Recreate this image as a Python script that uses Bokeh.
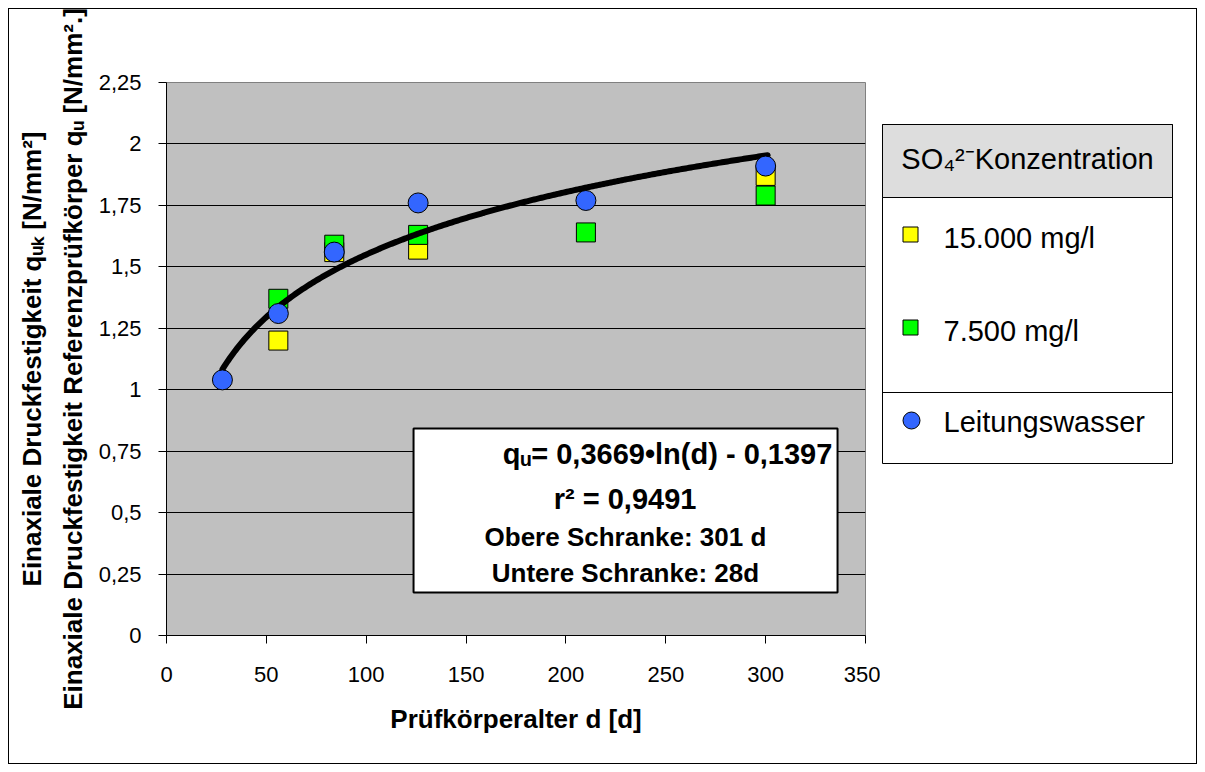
import numpy as np
from bokeh.plotting import figure
from bokeh.models import Range1d, FixedTicker, Label, BoxAnnotation
from bokeh.layouts import row
from bokeh.embed import file_html
from bokeh.resources import INLINE
from bokeh.core.properties import value

# ---------------- data ----------------
days_15000 = [56, 84, 126, 300]
q_15000 = [1.20, 1.56, 1.57, 1.87]

days_7500 = [56, 84, 126, 210, 300]
q_7500 = [1.37, 1.59, 1.63, 1.64, 1.79]

days_tap = [28, 56, 84, 126, 210, 300]
q_tap = [1.04, 1.31, 1.56, 1.76, 1.77, 1.91]

series_names = ["15.000 mg/l", "7.500 mg/l", "Leitungswasser"]
series_colors = ["#FFFF00", "#00FF00", "#3366FF"]
series_markers = ["square", "square", "circle"]

# logarithmic trend line given in the chart: q = a*ln(d) + b, 28 d .. 301 d
fit_a = 0.3669
fit_b = -0.1397
fit_start = 28
fit_end = 301

x_ticks = [0, 50, 100, 150, 200, 250, 300, 350]
y_ticks = [0, 0.25, 0.5, 0.75, 1, 1.25, 1.5, 1.75, 2, 2.25]
y_tick_labels = ["0", "0,25", "0,5", "0,75", "1", "1,25", "1,5", "1,75", "2", "2,25"]

legend_title = "SO\u2084\u00b2\u207bKonzentration"
eq_lines = ["q\u1d64= 0,3669\u2022ln(d) - 0,1397", "r\u00b2 = 0,9491",
            "Obere Schranke: 301 d", "Untere Schranke: 28d"]
x_label = "Prüfkörperalter d [d]"
y_label = ("Einaxiale Druckfestigkeit q\u1d64\u2096 [N/mm\u00b2]\n"
           "Einaxiale Druckfestigkeit Referenzprüfkörper q\u1d64 [N/mm\u00b2.]")

FONT = "Liberation Sans"
TOP, BOTTOM, FH = 73, 128, 553

# ---------------- main chart ----------------
p = figure(frame_width=699, frame_height=FH,
           min_border_left=157, min_border_right=15,
           min_border_top=TOP, min_border_bottom=BOTTOM,
           x_range=Range1d(0, 350), y_range=Range1d(0, 2.25),
           output_backend="svg", toolbar_location=None,
           background_fill_color="#C0C0C0", border_fill_color="white",
           outline_line_color="#808080", outline_line_width=1)

p.xaxis.ticker = FixedTicker(ticks=x_ticks)
p.yaxis.ticker = FixedTicker(ticks=y_ticks)
p.yaxis.major_label_overrides = dict(zip(y_ticks, y_tick_labels))

for ax in (p.xaxis, p.yaxis):
    ax.axis_line_color = "black"
    ax.axis_line_width = 1
    ax.major_tick_line_color = "black"
    ax.major_tick_in = 0
    ax.major_tick_out = 8
    ax.minor_tick_line_color = None
    ax.major_label_text_font = FONT
    ax.major_label_text_font_size = "22px"
    ax.major_label_text_color = "black"
    ax.axis_label_text_font = FONT
    ax.axis_label_text_font_style = "bold"
    ax.axis_label_text_color = "black"

p.xaxis.major_label_standoff = 23
p.yaxis.major_label_standoff = 17
p.xaxis.axis_label = x_label
p.xaxis.axis_label_text_font_size = "26px"
p.xaxis.axis_label_standoff = 19
p.yaxis.axis_label = y_label
p.yaxis.axis_label_text_font_size = "26px"
p.yaxis.axis_label_text_line_height = 1.35
p.yaxis.axis_label_standoff = 8

p.xgrid.grid_line_color = None
p.ygrid.grid_line_color = "black"
p.ygrid.grid_line_width = 1

p.scatter(days_15000, q_15000, marker=series_markers[0], size=19,
          fill_color=series_colors[0], line_color="black", line_width=1)
p.scatter(days_7500, q_7500, marker=series_markers[1], size=19,
          fill_color=series_colors[1], line_color="black", line_width=1)

d_fit = np.linspace(fit_start, fit_end, 300)
q_fit = fit_a * np.log(d_fit) + fit_b
p.line(d_fit, q_fit, line_width=6, line_color="black", line_cap="round")

p.scatter(days_tap, q_tap, marker=series_markers[2], size=20,
          fill_color=series_colors[2], line_color="black", line_width=1)

# equation box
p.add_layout(BoxAnnotation(left=123.7, right=336.0, bottom=0.175, top=0.842,
                           fill_color="white", fill_alpha=1.0,
                           line_color="black", line_width=2, line_alpha=1.0))
eq_x = [250.9, 229.6, 229.8, 229.8]
eq_y = [0.740, 0.557, 0.399, 0.256]
eq_size = ["29px", "29px", "26px", "26px"]
for t, xx, yy, fs in zip(eq_lines, eq_x, eq_y, eq_size):
    p.add_layout(Label(x=xx, y=yy, text=t, text_align="center", text_baseline="middle",
                       text_font=FONT, text_font_style="bold", text_font_size=fs,
                       text_color="black"))

# ---------------- legend panel (pixel-like coordinates, y downward) ----------------
leg = figure(frame_width=316, frame_height=FH,
             min_border_left=0, min_border_right=0,
             min_border_top=TOP, min_border_bottom=BOTTOM,
             x_range=Range1d(0, 316), y_range=Range1d(FH, 0),
             x_axis_location=None, y_axis_location=None,
             output_backend="svg", toolbar_location=None,
             background_fill_color="white", border_fill_color="white",
             outline_line_color=None)
leg.xgrid.visible = False
leg.ygrid.visible = False

leg.quad(left=2, right=292, top=42, bottom=381, fill_color="white", line_color="black", line_width=1)
leg.quad(left=2, right=292, top=42, bottom=115, fill_color="#DDDDDD", line_color="black", line_width=1)
leg.segment(x0=[2], y0=[310], x1=[292], y1=[310], line_color="black", line_width=1)

leg.text(x=[147], y=[76], text=[legend_title], text_align="center", text_baseline="middle",
         text_font=value(FONT), text_font_size=value("29px"), text_color="black")

item_x = [30, 30, 31]
item_y = [152, 245, 338]
leg.scatter(x=item_x, y=item_y, marker=series_markers, size=[15, 15, 17],
            fill_color=series_colors, line_color="black", line_width=1)
leg.text(x=[63, 63, 63], y=[155, 248, 339], text=series_names,
         text_align="left", text_baseline="middle",
         text_font=value(FONT), text_font_size=value("29px"), text_color="black")

layout = row(p, leg, spacing=0,
             styles={"border": "1px solid black", "margin-left": "8px", "margin-top": "8px"})

open("out.html", "w").write(file_html(layout, INLINE))
